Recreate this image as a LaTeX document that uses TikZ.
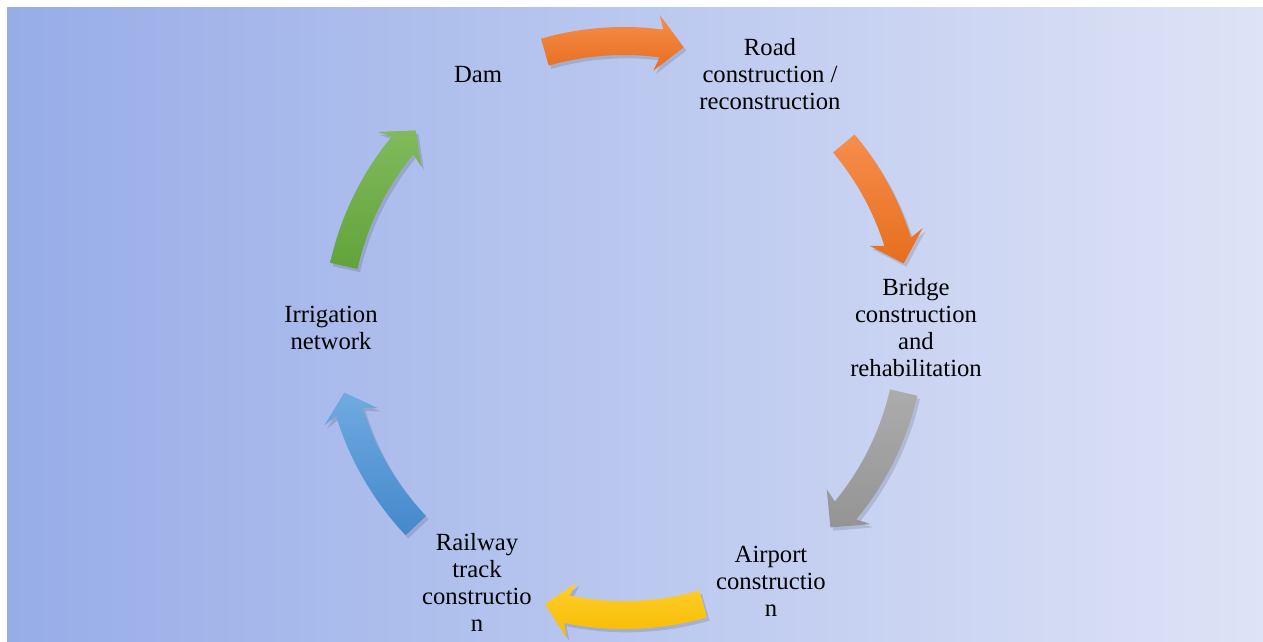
\documentclass[tikz,border=0pt]{standalone}
\usepackage{fontspec}
\setmainfont{Liberation Serif}
\usetikzlibrary{shadows}

\definecolor{bgleft}{RGB}{151,173,232}
\definecolor{bgright}{RGB}{222,227,246}
\definecolor{orTop}{RGB}{246,142,76}
\definecolor{orBot}{RGB}{231,110,30}
\definecolor{grTop}{RGB}{172,172,172}
\definecolor{grBot}{RGB}{148,148,148}
\definecolor{yeTop}{RGB}{255,206,45}
\definecolor{yeBot}{RGB}{248,188,0}
\definecolor{blTop}{RGB}{112,170,224}
\definecolor{blBot}{RGB}{68,136,204}
\definecolor{gnTop}{RGB}{128,186,92}
\definecolor{gnBot}{RGB}{98,163,58}

\begin{document}
\begin{tikzpicture}[x=0.75pt,y=0.75pt,yscale=-1,xscale=1,
    lbl/.style={align=center,inner sep=0.75pt,font=\fontsize{18.5}{20.25}\selectfont},
    arrshadow/.style={drop shadow={shadow xshift=2pt,shadow yshift=-2.5pt,opacity=0.12,fill=black}}]
%set diagram size 1263 x 642
\useasboundingbox (0,0) rectangle (1263,642);
\fill[white] (0,0) rectangle (1263,642);

%Background
\shade[left color=bgleft,right color=bgright] (7,8) rectangle (1263,642);

\coordinate (ctr) at (624,328);

\begin{scope}[shift={(ctr)}]
%Shape: Curved Arrow (top)
\shade[top color=orTop,bottom color=orBot,arrshadow] (-106:301) arc[start angle=-106,end angle=-82.5,radius=301] -- (-83.5:315) -- (-78:287) -- (-83.5:259) -- (-82.5:273) arc[start angle=-82.5,end angle=-106,radius=273] -- cycle;
%Shape: Curved Arrow (upper right)
\shade[top color=orTop,bottom color=orBot,arrshadow] (-40:301) arc[start angle=-40,end angle=-17.5,radius=301] -- (-18.5:315) -- (-13:287) -- (-18.5:259) -- (-17.5:273) arc[start angle=-17.5,end angle=-40,radius=273] -- cycle;
%Shape: Curved Arrow (lower right)
\shade[top color=grTop,bottom color=grBot,arrshadow] (13:301) arc[start angle=13,end angle=39.5,radius=301] -- (38.5:315) -- (44:287) -- (38.5:259) -- (39.5:273) arc[start angle=39.5,end angle=13,radius=273] -- cycle;
%Shape: Curved Arrow (bottom)
\shade[top color=yeTop,bottom color=yeBot,arrshadow] (74:301) arc[start angle=74,end angle=101.5,radius=301] -- (100.5:315) -- (106:287) -- (100.5:259) -- (101.5:273) arc[start angle=101.5,end angle=74,radius=273] -- cycle;
%Shape: Curved Arrow (lower left)
\shade[top color=blTop,bottom color=blBot,arrshadow] (136.5:301) arc[start angle=136.5,end angle=163,radius=301] -- (162:315) -- (167:287) -- (162:259) -- (163:273) arc[start angle=163,end angle=136.5,radius=273] -- cycle;
%Shape: Curved Arrow (upper left)
\shade[top color=gnTop,bottom color=gnBot,arrshadow] (192.5:301) arc[start angle=192.5,end angle=219.5,radius=301] -- (218.5:315) -- (223.5:287) -- (218.5:259) -- (219.5:273) arc[start angle=219.5,end angle=192.5,radius=273] -- cycle;
\end{scope}

% Text Node
\node[lbl] (dam) at (478,75) {Dam};
% Text Node
\node[lbl] (road) at (770,74) {Road\\construction /\\reconstruction};
% Text Node
\node[lbl] (bridge) at (916,328) {Bridge\\construction\\and\\rehabilitation};
% Text Node
\node[lbl] (airport) at (771,581) {Airport\\constructio\\n};
% Text Node
\node[lbl] (railway) at (477,582) {Railway\\track\\constructio\\n};
% Text Node
\node[lbl] (irrigation) at (331,328) {Irrigation\\network};

\end{tikzpicture}
\end{document}
